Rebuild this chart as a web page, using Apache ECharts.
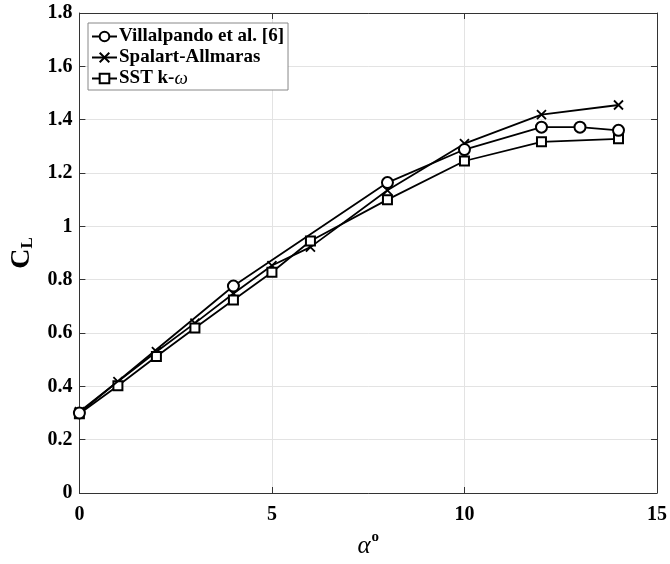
<!DOCTYPE html>
<html>
<head>
<meta charset="utf-8">
<script src="https://cdn.jsdelivr.net/npm/echarts@6/dist/echarts.min.js"></script>
<style>
  html, body { margin: 0; padding: 0; background: #fff; }
  #chart { width: 670px; height: 564px; }
</style>
</head>
<body>
<div id="chart"></div>
<script>
// Lift coefficient vs. angle of attack: experiment and two turbulence models
const seriesNames = ['Villalpando et al. [6]', 'Spalart-Allmaras', 'SST k-\u03c9'];

const alphaExp = [0, 4, 8, 10, 12, 13, 14];
const clExp    = [0.30, 0.776, 1.164, 1.288, 1.372, 1.372, 1.360];

const alphaSA  = [0, 1, 2, 3, 4, 5, 6, 8, 10, 12, 14];
const clSA     = [0.305, 0.418, 0.530, 0.637, 0.748, 0.853, 0.922, 1.135, 1.310, 1.419, 1.455];

const alphaSST = [0, 1, 2, 3, 4, 5, 6, 8, 10, 12, 14];
const clSST    = [0.297, 0.402, 0.512, 0.619, 0.724, 0.828, 0.945, 1.100, 1.245, 1.317, 1.328];

const xTicks = { min: 0, max: 15, step: 5 };
const yTicks = { min: 0, max: 1.8, step: 0.2 };

const pairs = (xs, ys) => xs.map((x, i) => [x, ys[i]]);

const serif = '"Liberation Serif", "DejaVu Serif", serif';
const frameColor = '#333';
const gridColor = '#e3e3e3';

function frameAxis(pos, isX, visibleLabels) {
  return {
    type: 'value',
    position: pos,
    min: isX ? xTicks.min : yTicks.min,
    max: isX ? xTicks.max : yTicks.max,
    interval: isX ? xTicks.step : yTicks.step,
    axisLine: { show: true, onZero: false, lineStyle: { color: frameColor, width: 1 } },
    axisTick: { show: true, inside: true, length: 6, lineStyle: { color: frameColor, width: 1 } },
    axisLabel: {
      show: visibleLabels,
      color: '#000',
      fontFamily: serif,
      fontWeight: 'bold',
      fontSize: 20,
      margin: isX ? 12 : 7
    },
    splitLine: { show: visibleLabels, lineStyle: { color: gridColor, width: 1 } }
  };
}

const xBottom = frameAxis('bottom', true, true);
xBottom.name = '{a|\u03b1}{o|o}';
xBottom.nameLocation = 'middle';
xBottom.nameGap = 37;
xBottom.nameTextStyle = {
  rich: {
    a: { fontFamily: serif, fontStyle: 'italic', fontSize: 25, color: '#000', verticalAlign: 'bottom' },
    o: { fontFamily: serif, fontWeight: 'bold', fontSize: 15, color: '#000', verticalAlign: 'top', padding: [0, 0, 14, 1] }
  }
};

const yLeft = frameAxis('left', false, true);
yLeft.name = '{c|C}{l|L}';
yLeft.nameLocation = 'middle';
yLeft.nameRotate = 90;
yLeft.nameGap = 40;
yLeft.nameTextStyle = {
  rich: {
    c: { fontFamily: serif, fontWeight: 'bold', fontSize: 28, color: '#000' },
    l: { fontFamily: serif, fontWeight: 'bold', fontSize: 17, color: '#000', padding: [12, 0, 0, 0] }
  }
};

const xTop = frameAxis('top', true, false);
const yRight = frameAxis('right', false, false);

const lineStyle = { color: '#000', width: 1.8 };

const option = {
  animation: false,
  backgroundColor: '#fff',
  grid: { left: 77, right: 13, top: 13, bottom: 69, containLabel: false },
  xAxis: [xBottom, xTop],
  yAxis: [yLeft, yRight],
  legend: {
    orient: 'vertical',
    left: 88,
    top: 23,
    padding: [4, 4, 2, 3],
    itemGap: 2,
    itemWidth: 25,
    itemHeight: 12,
    borderColor: '#888',
    borderWidth: 1,
    backgroundColor: '#fff',
    data: seriesNames,
    formatter: function (name) {
      if (name === seriesNames[2]) return '{b|SST k-}{i|\u03c9}';
      return '{b|' + name + '}';
    },
    textStyle: {
      color: '#000',
      padding: [0, 0, 0, -3],
      rich: {
        b: { fontFamily: serif, fontWeight: 'bold', fontSize: 19, color: '#000', lineHeight: 21 },
        i: { fontFamily: serif, fontStyle: 'italic', fontSize: 19, color: '#000', lineHeight: 21 }
      }
    }
  },
  series: [
    {
      name: seriesNames[0],
      type: 'line',
      data: pairs(alphaExp, clExp),
      symbol: 'emptyCircle',
      symbolSize: 11,
      lineStyle: lineStyle,
      itemStyle: { color: '#000', borderColor: '#000', borderWidth: 1.5 },
      z: 3
    },
    {
      name: seriesNames[1],
      type: 'line',
      data: pairs(alphaSA, clSA),
      symbol: 'path://M0,0L10,10M0,10L10,0',
      symbolSize: 9,
      lineStyle: lineStyle,
      itemStyle: { color: '#000', borderColor: '#000', borderWidth: 1.8 },
      z: 2
    },
    {
      name: seriesNames[2],
      type: 'line',
      data: pairs(alphaSST, clSST),
      symbol: 'emptyRect',
      symbolSize: 9,
      lineStyle: lineStyle,
      itemStyle: { color: '#000', borderColor: '#000', borderWidth: 1.3 },
      z: 2
    }
  ]
};

const chart = echarts.init(document.getElementById('chart'), null, { renderer: 'canvas' });
chart.setOption(option);
</script>
</body>
</html>
